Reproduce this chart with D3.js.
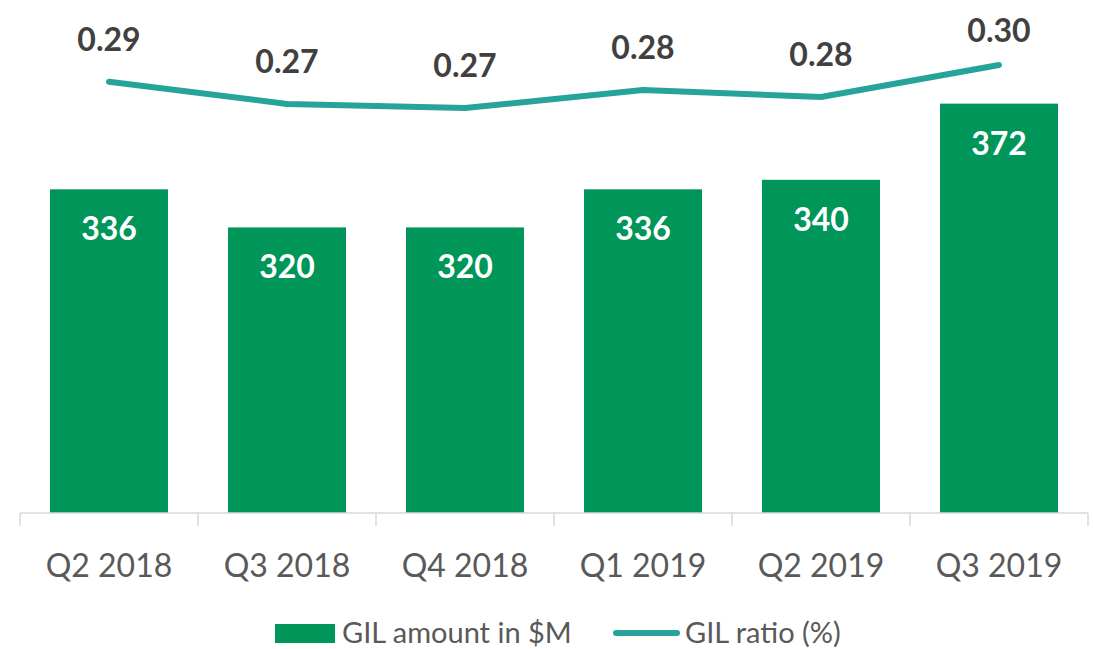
<!DOCTYPE html>
<html>
<head>
<meta charset="utf-8">
<script src="https://cdn.jsdelivr.net/npm/d3@7"></script>
<style>
  html, body { margin: 0; padding: 0; background: #ffffff; }
  svg { display: block; font-family: Lato, "Open Sans", sans-serif; }
</style>
</head>
<body>
<svg id="chart" width="1093" height="649"></svg>
<script>
const categories = ["Q2 2018", "Q3 2018", "Q4 2018", "Q1 2019", "Q2 2019", "Q3 2019"];
const gilAmount = [336, 320, 320, 336, 340, 372];
const gilRatio = [0.2877, 0.2715, 0.2685, 0.2817, 0.2766, 0.3000];
const seriesNames = ["GIL amount in $M", "GIL ratio (%)"];

const barColor = "#00965A";
const lineColor = "#26A39A";

const svg = d3.select("#chart");
const baseY = 513;

const x = d3.scaleBand().domain(categories).range([20, 1088]).paddingInner(0.337).paddingOuter(0.1685);
const y = d3.scaleLinear().domain([200, 400]).range([baseY, 37]);
const y2 = d3.scaleLinear().domain([0, 0.30]).range([475, 65]);

// bars
svg.append("g").selectAll("rect").data(gilAmount).join("rect")
  .attr("x", (d, i) => x(categories[i]))
  .attr("y", d => y(d))
  .attr("width", x.bandwidth())
  .attr("height", d => baseY - y(d))
  .attr("fill", barColor);

// bar labels
svg.append("g").selectAll("text").data(gilAmount).join("text")
  .attr("x", (d, i) => x(categories[i]) + x.bandwidth() / 2)
  .attr("y", d => y(d) + 51)
  .attr("text-anchor", "middle")
  .attr("font-size", 32)
  .attr("font-weight", "bold")
  .attr("fill", "#ffffff")
  .text(d => d);

// x axis
const axis = d3.axisBottom(x).tickSize(0).tickPadding(0);
const gx = svg.append("g").attr("transform", `translate(0,${baseY})`).call(axis);
gx.select(".domain").remove();
gx.selectAll(".tick text").remove();
svg.append("line").attr("x1", 20).attr("x2", 1088).attr("y1", baseY).attr("y2", baseY)
  .attr("stroke", "#d9d9d9").attr("stroke-width", 1.5);
const step = x.step();
const bounds = d3.range(categories.length + 1).map(i => 20 + i * step);
svg.append("g").selectAll("line").data(bounds).join("line")
  .attr("x1", d => d).attr("x2", d => d)
  .attr("y1", baseY).attr("y2", baseY + 13)
  .attr("stroke", "#d9d9d9").attr("stroke-width", 1.5);
svg.append("g").selectAll("text").data(categories).join("text")
  .attr("x", d => x(d) + x.bandwidth() / 2)
  .attr("y", 577)
  .attr("text-anchor", "middle")
  .attr("font-size", 32)
  .attr("fill", "#595959")
  .text(d => d);

// line
const line = d3.line()
  .x((d, i) => x(categories[i]) + x.bandwidth() / 2)
  .y(d => y2(d));
svg.append("path").datum(gilRatio)
  .attr("d", line)
  .attr("fill", "none")
  .attr("stroke", lineColor)
  .attr("stroke-width", 6)
  .attr("stroke-linecap", "round")
  .attr("stroke-linejoin", "round");

// line labels
svg.append("g").selectAll("text").data(gilRatio).join("text")
  .attr("x", (d, i) => x(categories[i]) + x.bandwidth() / 2)
  .attr("y", d => Math.max(y2(d) - 31, 42))
  .attr("text-anchor", "middle")
  .attr("font-size", 32)
  .attr("font-weight", "bold")
  .attr("fill", "#404040")
  .text(d => d.toFixed(2));

// legend
const lg = svg.append("g");
lg.append("rect").attr("x", 275).attr("y", 624).attr("width", 60).attr("height", 19).attr("fill", barColor);
lg.append("text").attr("x", 342).attr("y", 643).attr("font-size", 29).attr("fill", "#595959").text(seriesNames[0]);
lg.append("line").attr("x1", 616).attr("x2", 677).attr("y1", 633).attr("y2", 633)
  .attr("stroke", lineColor).attr("stroke-width", 6).attr("stroke-linecap", "round");
lg.append("text").attr("x", 685).attr("y", 643).attr("font-size", 29).attr("fill", "#595959").text(seriesNames[1]);
</script>
</body>
</html>
